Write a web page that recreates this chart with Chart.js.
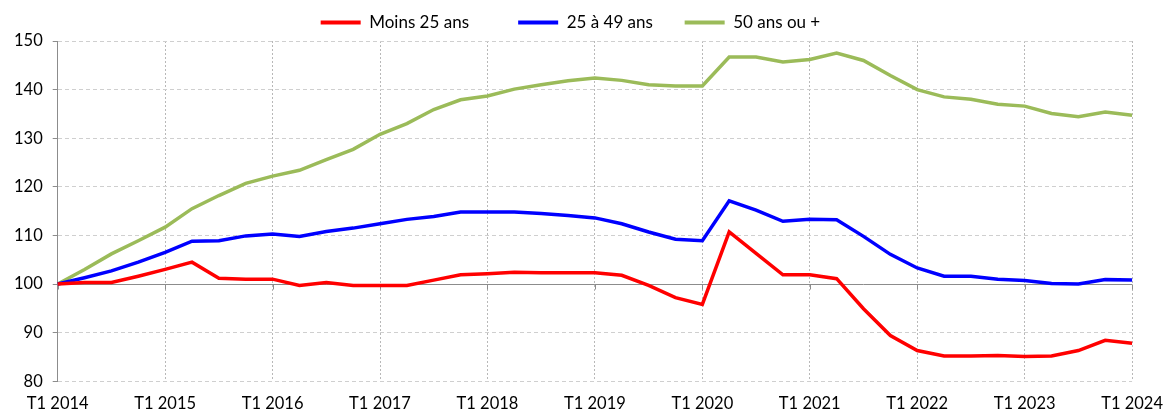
<!DOCTYPE html>
<html>
<head>
<meta charset="utf-8">
<script src="https://cdn.jsdelivr.net/npm/chart.js@4/dist/chart.umd.min.js"></script>
<style>
  html, body { margin: 0; padding: 0; background: #fff; }
  #wrap { width: 1163px; height: 414px; }
</style>
</head>
<body>
<div id="wrap"><canvas id="chart" width="1163" height="414"></canvas></div>
<script>
// Quarters T1 2014 .. T1 2024
const quarters = [];
for (let y = 2014; y <= 2024; y++) {
  for (let q = 1; q <= 4; q++) {
    if (y === 2024 && q > 1) break;
    quarters.push('T' + q + ' ' + y);
  }
}

const seriesNames = ['Moins 25 ans', '25 à 49 ans', '50 ans ou +'];

const moins25 = [100, 100.3, 100.3, 101.6, 103.0, 104.5, 101.2, 101.0, 101.0, 99.7, 100.3, 99.7, 99.7, 99.7, 100.8, 101.9,
  102.1, 102.4, 102.3, 102.3, 102.3, 101.8, 99.7, 97.2, 95.8, 110.7, 106.3, 101.9, 101.9, 101.1, 94.9, 89.4,
  86.3, 85.2, 85.2, 85.3, 85.1, 85.2, 86.3, 88.4, 87.8];

const de25a49 = [100, 101.3, 102.7, 104.5, 106.5, 108.8, 108.9, 109.9, 110.3, 109.8, 110.8, 111.5, 112.4, 113.3, 113.9, 114.8,
  114.8, 114.8, 114.5, 114.1, 113.6, 112.4, 110.7, 109.2, 108.9, 117.1, 115.2, 112.9, 113.3, 113.2, 109.8, 106.1,
  103.3, 101.6, 101.6, 101.0, 100.7, 100.1, 100.0, 100.9, 100.8];

const plus50 = [100, 103.0, 106.2, 108.9, 111.7, 115.5, 118.2, 120.7, 122.2, 123.4, 125.6, 127.7, 130.8, 133.0, 135.9, 137.9,
  138.7, 140.1, 141.0, 141.8, 142.4, 141.9, 141.0, 140.75, 140.75, 146.7, 146.7, 145.7, 146.2, 147.5, 146.0, 142.9,
  140.0, 138.5, 138.0, 137.0, 136.6, 135.1, 134.4, 135.4, 134.7];

const colors = ['#ff0000', '#0000ff', '#9bbb59'];
const FONT = 'Lato, "Open Sans", sans-serif';
// extra room after each legend entry (text spacing like the original)
const legendGaps = ['         ', '     ', '      '];

// solid reference line at 100 with the x-axis ticks hanging from it
const baseLine = {
  id: 'baseLine',
  beforeDatasetsDraw(chart) {
    const { ctx, chartArea, scales } = chart;
    const y = Math.round(scales.y.getPixelForValue(100)) + 0.5;
    ctx.save();
    ctx.strokeStyle = '#8c8c8c';
    ctx.lineWidth = 1;
    ctx.beginPath();
    ctx.moveTo(chartArea.left, y);
    ctx.lineTo(chartArea.right, y);
    quarters.forEach((q, i) => {
      if (i % 4 !== 0) return;
      const x = Math.round(scales.x.getPixelForValue(i)) + 0.5;
      ctx.moveTo(x, y);
      ctx.lineTo(x, y + 5);
    });
    ctx.stroke();
    ctx.restore();
  }
};

new Chart(document.getElementById('chart'), {
  type: 'line',
  data: {
    labels: quarters,
    datasets: [moins25, de25a49, plus50].map((d, i) => ({
      label: seriesNames[i],
      data: d,
      borderColor: colors[i],
      backgroundColor: colors[i],
      borderWidth: 3.5,
      pointRadius: 0,
      tension: 0,
      fill: false
    }))
  },
  options: {
    responsive: false,
    animation: false,
    layout: { padding: { left: 4, right: 0, top: 4, bottom: 0 } },
    plugins: {
      legend: {
        position: 'top',
        labels: {
          font: { family: FONT, size: 17 },
          color: '#000',
          boxWidth: 40,
          boxHeight: 4,
          padding: 10,
          generateLabels(chart) {
            return chart.data.datasets.map((ds, i) => ({
              text: ds.label + legendGaps[i],
              fillStyle: ds.borderColor,
              strokeStyle: ds.borderColor,
              lineWidth: 0,
              datasetIndex: i,
              hidden: false
            }));
          }
        }
      },
      tooltip: { enabled: false }
    },
    scales: {
      x: {
        offset: false,
        border: { display: false, dash: [2, 2] },
        grid: {
          color: ctx => (ctx.index % 4 === 0 ? '#b8b8b8' : 'transparent'),
          drawTicks: true,
          tickLength: 13,
          tickColor: 'transparent'
        },
        ticks: {
          autoSkip: false,
          maxRotation: 0,
          padding: 0,
          color: '#000',
          font: { family: FONT, size: 16.5 },
          callback: (v, i) => (i % 4 === 0 ? quarters[i] : '')
        }
      },
      y: {
        min: 80,
        max: 150,
        border: { display: true, color: '#8c8c8c', dash: [4, 3] },
        grid: {
          color: ctx => (ctx.tick && ctx.tick.value === 100 ? 'transparent' : '#cfcfcf'),
          tickColor: '#8c8c8c',
          tickLength: 5,
          tickBorderDash: []
        },
        ticks: {
          stepSize: 10,
          padding: 10,
          color: '#000',
          font: { family: FONT, size: 16.5 }
        }
      }
    }
  },
  plugins: [baseLine]
});
</script>
</body>
</html>
